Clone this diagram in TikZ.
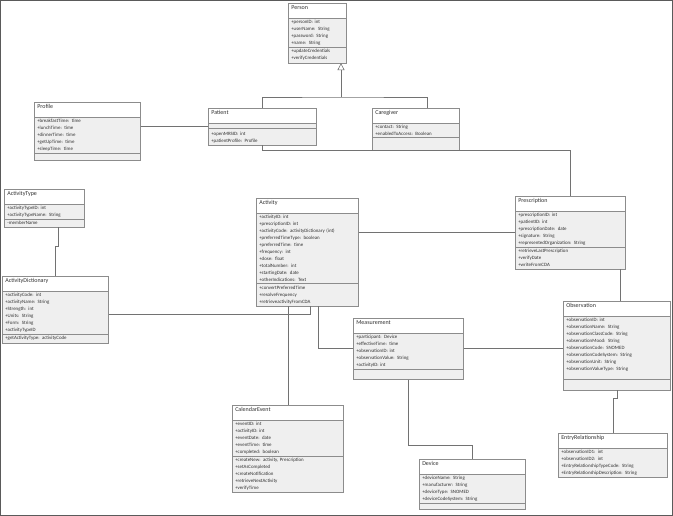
\documentclass[tikz,border=0pt]{standalone}
\usepackage{fontspec}
\setmainfont{Carlito}
\usetikzlibrary{shapes.multipart,arrows.meta}
\definecolor{boxline}{HTML}{8C8C8C}
\definecolor{boxfill}{HTML}{EFEFEF}
\definecolor{linegray}{HTML}{727272}
\definecolor{txtgray}{HTML}{303030}
\definecolor{framegray}{HTML}{5A5A5A}
\tikzset{
  umlclass/.style={rectangle split, rectangle split parts=3,
    rectangle split part fill={white,boxfill,boxfill},
    draw=boxline, line width=0.6pt, anchor=north west,
    inner xsep=3pt, inner ysep=1.8pt, text width=#1, align=left,
    font=\fontsize{4.9}{7}\selectfont, text=txtgray},
  umlclass/.default=100pt,
  assoc/.style={draw=linegray, line width=0.6pt},
  gen/.style={assoc, -{Triangle[open,length=7pt,width=7pt]}},
}
\newcommand\ctitle[1]{\rule[-6pt]{0pt}{10.5pt}{\fontsize{6}{7}\selectfont #1}}
\newcommand\cempty[1]{\rule{0pt}{#1}}

\begin{document}
\begin{tikzpicture}[x=1pt,y=-1pt]
\useasboundingbox (0,0) rectangle (673,516);
\draw[framegray, line width=0.8pt] (0.4,0.4) rectangle (672.6,515.6);

% ---- classes ----
\node[umlclass=52pt] (per) at (288,3)
  {\ctitle{Person}
   \nodepart{second}+personID: int\\+userName: String\\+password: String\\+name: String
   \nodepart{third}+updateCredentials\\+verifyCredentials};
\node[umlclass=100pt] (prof) at (34,102)
  {\ctitle{Profile}
   \nodepart{second}+breakfastTime: time\\+lunchTime: time\\+dinnerTime: time\\+getUpTime: time\\+sleepTime: time
   \nodepart{third}\cempty{3pt}};
\node[umlclass=102pt] (pat) at (208,108)
  {\ctitle{Patient}
   \nodepart{second}\cempty{1pt}
   \nodepart{third}\cempty{5pt}+openMRSID: int\\+patientProfile: Profile};
\node[umlclass=81pt] (care) at (372,108)
  {\ctitle{Caregiver}
   \nodepart{second}+contact: String\\+enabledToAccess: Boolean
   \nodepart{third}\cempty{8pt}};
\node[umlclass=74pt] (atype) at (4,189)
  {\ctitle{ActivityType}
   \nodepart{second}+activityTypeID: int\\+activityTypeName: String
   \nodepart{third}-memberName};
\node[umlclass=100pt] (adict) at (2,276)
  {\ctitle{ActivityDictionary}
   \nodepart{second}+activityCode: int\\+activityName: String\\+Strength: int\\+Units: String\\+Form: String\\+activityTypeID
   \nodepart{third}+getActivityType: activityCode};
\node[umlclass=96pt] (act) at (256,198)
  {\ctitle{Activity}
   \nodepart{second}+activityID: int\\+prescriptionID: int\\+activityCode: activityDictionary (int)\\+preferredTimeType: boolean\\+preferredTime: time\\+frequency: int\\+dose: float\\+totalNumber: int\\+startingDate: date\\+otherIndications: Text
   \nodepart{third}+convertPreferredTime\\+resolveFrequency\\+retrieveactivityFromCDA};
\node[umlclass=104pt] (presc) at (515,196)
  {\ctitle{Prescription}
   \nodepart{second}+prescriptionID: int\\+patientID: int\\+prescriptionDate: date\\+signature: String\\+representedOrganization: String
   \nodepart{third}+retrieveLastPrescription\\+verifyDate\\+writeFromCDA};
\node[umlclass=104pt] (meas) at (353,318)
  {\ctitle{Measurement}
   \nodepart{second}+participant: Device\\+effectiveTime: time\\+observationID: int\\+observationValue: String\\+activityID: int
   \nodepart{third}\cempty{6pt}};
\node[umlclass=101pt] (obs) at (563,301)
  {\ctitle{Observation}
   \nodepart{second}+observationID: int\\+observationName: String\\+observationClassCode: String\\+observationMood: String\\+observationCode: SNOMED\\+observationCodeSystem: String\\+observationUnit: String\\+observationValueType: String\\\cempty{4pt}
   \nodepart{third}\cempty{6pt}};
\node[umlclass=105pt] (cal) at (232,405)
  {\ctitle{CalendarEvent}
   \nodepart{second}+eventID: int\\+activityID: int\\+eventDate: date\\+eventTime: time\\+completed: boolean
   \nodepart{third}+createNew: activity, Prescription\\+setAsCompleted\\+createNotification\\+retrieveNextActivity\\+verifyTime};
\node[umlclass=100pt] (dev) at (419,459)
  {\ctitle{Device}
   \nodepart{second}+deviceName: String\\+manufacturer: String\\+deviceType: SNOMED\\+deviceCodeSystem: String
   \nodepart{third}\cempty{2pt}};
\node[umlclass=103pt, rectangle split parts=2] (er) at (558,433)
  {\ctitle{EntryRelationship}
   \nodepart{second}+observationID1: int\\+observationID2: int\\+EntryRelationshipTypeCode: String\\+EntryRelationshipDescription: String};

% ---- generalization ----
\coordinate (genj) at (341,97);
\draw[gen] (genj) -- (genj |- per.south);
\draw[assoc] (262,0 |- pat.north) |- (genj) -| (427,0 |- care.north);

% ---- associations ----
\draw[assoc] (prof.east |- pat.west) -- (pat.west);
\draw[assoc] (pat.south) -- ++(0,5) -| (presc.north);
\draw[assoc] (act.east |- 0,232) -- (presc.west |- 0,232);
\draw[assoc] (58,0 |- atype.south) -- (58,246) -- (55,246) -- (55,0 |- adict.north);
\draw[assoc] (adict.east |- 0,314) -| (310,0 |- act.south);
\draw[assoc] (cal.north |- act.south) -- (cal.north);
\draw[assoc] (318,0 |- act.south) |- (meas.west |- 0,348);
\draw[assoc] (meas.east |- 0,348) -- (obs.west |- 0,348);
\draw[assoc] (meas.south) |- (dev.north |- 0,445) -- (dev.north);
\draw[assoc] (obs.south) -- ++(0,8) -| (er.north);
\draw[assoc] (620,0 |- presc.south) -- (620,0 |- obs.north);

\end{tikzpicture}
\end{document}
